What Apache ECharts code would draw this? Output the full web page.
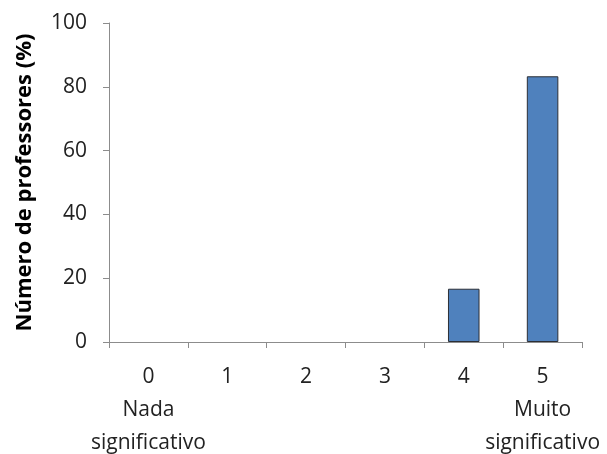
<!DOCTYPE html>
<html>
<head>
<meta charset="utf-8">
<script src="https://cdn.jsdelivr.net/npm/echarts@6/dist/echarts.min.js"></script>
<style>
  html, body { margin: 0; padding: 0; background: #ffffff; }
  #chart { width: 607px; height: 454px; }
</style>
</head>
<body>
<div id="chart"></div>
<script>
// Scale points (0–5) and the share of teachers choosing each one
const categories = ['0', '1', '2', '3', '4', '5'];
const scaleNotes = ['Nada\nsignificativo', '', '', '', '', 'Muito\nsignificativo'];
const percentages = [0, 0, 0, 0, 16.7, 83.3];
const yTicks = [0, 20, 40, 60, 80, 100];

const FONT = '"Open Sans", "Noto Sans", sans-serif';

// Empty categories get no outline so nothing is drawn on the axis for them
const barData = percentages.map(v => (
  v === 0 ? { value: v, itemStyle: { borderWidth: 0 } } : { value: v }
));

const chart = echarts.init(document.getElementById('chart'), null, { renderer: 'canvas' });

chart.setOption({
  animation: false,
  backgroundColor: '#ffffff',
  grid: { left: 109, right: 25, top: 23, bottom: 112, containLabel: false, outerBoundsMode: 'none' },
  xAxis: {
    type: 'category',
    data: categories,
    axisLine: { lineStyle: { color: '#8c8c8c', width: 1 } },
    axisTick: { show: true, interval: 0, length: 6, lineStyle: { color: '#8c8c8c' } },
    axisLabel: {
      interval: 0,
      margin: 19,
      color: '#222222',
      fontFamily: FONT,
      fontSize: 21,
      lineHeight: 33,
      formatter: function (value, idx) {
        const note = scaleNotes[idx];
        return note ? value + '\n' + note : value;
      }
    },
    splitLine: { show: false }
  },
  yAxis: {
    type: 'value',
    min: yTicks[0],
    max: yTicks[yTicks.length - 1],
    interval: yTicks[1] - yTicks[0],
    name: 'Número de professores (%)',
    nameLocation: 'middle',
    nameGap: 73,
    nameTextStyle: { color: '#000000', fontFamily: FONT, fontSize: 22, fontWeight: 'bold' },
    axisLine: { show: true, lineStyle: { color: '#8c8c8c', width: 1 } },
    axisTick: { show: true, length: 6, lineStyle: { color: '#8c8c8c' } },
    axisLabel: { margin: 22, color: '#222222', fontFamily: FONT, fontSize: 21 },
    splitLine: { show: false }
  },
  series: [{
    type: 'bar',
    data: barData,
    barWidth: '40%',
    itemStyle: { color: '#4f81bd', borderColor: '#2b2f36', borderWidth: 1 }
  }]
});
</script>
</body>
</html>
